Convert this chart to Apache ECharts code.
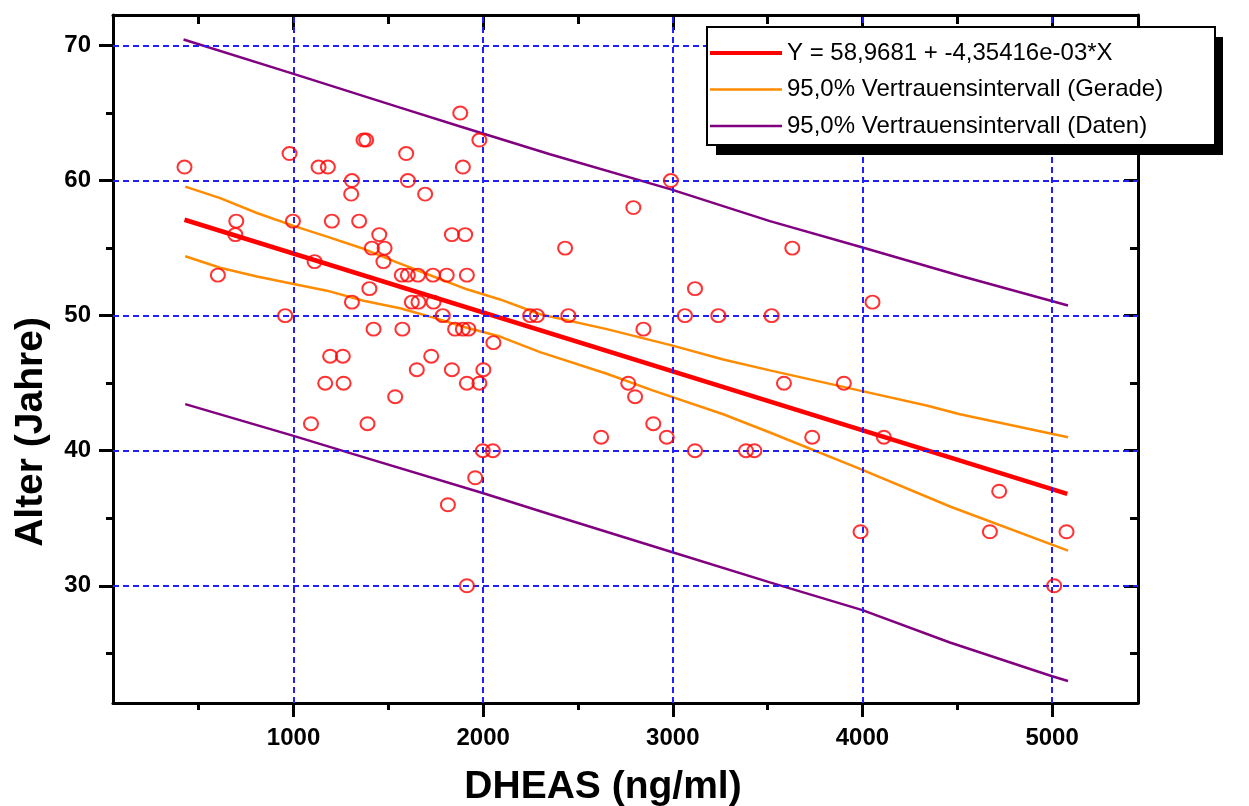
<!DOCTYPE html>
<html><head><meta charset="utf-8">
<script src="https://cdn.jsdelivr.net/npm/echarts@6/dist/echarts.min.js"></script>
<style>html,body{margin:0;padding:0;background:#fff}#c{width:1249px;height:806px}</style>
</head><body><div id="c"></div>
<script>
// Scatter data: DHEAS (ng/ml) vs Alter (Jahre)
const dheas = [425,601,698,693,956,979,997,1092,1111,1132,1181,1167,1193,1260,1264,1202,1304,1308,1308,1346,1369,1383,1400,1390,1413,1452,1480,1474,1422,1536,1571,1574,1594,1603,1603,1624,1650,1656,1659,1694,1726,1735,1738,1787,1808,1814,1835,1835,1852,1879,1893,1905,1914,1893,1922,1914,1914,1958,1980,1980,1998,2001,2051,2054,2248,2283,2432,2449,2622,2765,2792,2801,2845,2897,2968,2990,3064,3117,3117,3240,3386,3430,3521,3586,3630,3735,3902,3990,4053,4113,4672,4721,5011,5076];
const alter = [61,53,57,56,50,62,57,42,54,61,61,45,47,47,45,57,59,60,51,57,63,63,52,42,55,56,55,54,49,44,53,49,62,60,53,51,46,53,51,59,47,53,51,50,53,36,46,56,49,65,61,56,53,49,49,45,30,38,63,45,40,46,40,48,50,50,55,50,41,45,58,44,49,42,41,60,50,52,40,50,40,40,50,45,55,41,45,34,51,41,34,37,30,34];

// Regression line Y = 58,9681 - 4,35416e-03*X (endpoints)
const regX = [425, 5080];
const regY = [57.1, 36.8];

// 95% confidence band of the line (orange)
const ciUpX = [429,613,807,1000,1176,1369,1545,1738,1914,2089,2300,2652,2994,3266,3512,3987,4338,4514,5084];
const ciUpY = [59.55,58.7,57.6,56.65,55.85,54.95,53.95,52.9,51.95,51.2,50.1,49.0,47.8,46.75,45.95,44.45,43.35,42.7,41.0];
const ciLoX = [429,613,807,1000,1176,1369,1562,1738,1914,2089,2300,2652,2897,3266,3512,3987,4465,5084];
const ciLoY = [54.4,53.55,52.9,52.35,51.85,51.1,50.55,49.85,49.1,48.45,47.3,45.7,44.45,42.7,41.35,38.65,35.85,32.6];

// 95% prediction band of the data (purple)
const piUpX = [420,1000,1562,1879,2352,2990,3512,3987,4514,5084];
const piUpY = [70.45,67.9,65.4,64.0,61.95,59.35,57.0,55.1,52.95,50.75];
const piLoX = [429,1000,1316,2001,2352,2994,3512,4000,4461,5000,5084];
const piLoY = [43.45,41.1,39.75,36.85,35.3,32.5,30.25,28.2,25.8,23.3,22.95];

const xMajor = [1000,2000,3000,4000,5000];
const xMinor = [500,1500,2500,3500,4500];
const yMajor = [30,40,50,60,70];
const yMinor = [25,35,45,55,65];

const legendNames = ['Y = 58,9681 + -4,35416e-03*X','95,0% Vertrauensintervall (Gerade)','95,0% Vertrauensintervall (Daten)'];

const X_MIN = 48, X_MAX = 5453, Y_MIN = 21.32, Y_MAX = 72.26;
const FONT = '"Liberation Sans", Arial, sans-serif';

function zip(xs, ys){ return xs.map((x,i)=>[x, ys[i]]); }

function xAx(pos, ticks, len, inside, line, labels){
  return {
    type:'value', min:X_MIN, max:X_MAX, position:pos,
    axisLine:{show:line, onZero:false, lineStyle:{color:'#000', width:3}},
    axisTick:{show:true, customValues:ticks, length:len, inside:inside, lineStyle:{color:'#000', width:3}},
    axisLabel: labels ? {show:true, customValues:ticks, formatter:v=>String(v), fontSize:24, fontWeight:'bold', color:'#000', margin:23, fontFamily:FONT} : {show:false},
    splitLine:{show:false}
  };
}
function yAx(pos, ticks, len, inside, line, labels){
  return {
    type:'value', min:Y_MIN, max:Y_MAX, position:pos,
    axisLine:{show:line, onZero:false, lineStyle:{color:'#000', width:3}},
    axisTick:{show:true, customValues:ticks, length:len, inside:inside, lineStyle:{color:'#000', width:3}},
    axisLabel: labels ? {show:true, customValues:ticks, formatter:v=>String(v), fontSize:24, fontWeight:'bold', color:'#000', margin:22, fontFamily:FONT} : {show:false},
    splitLine:{show:false}
  };
}

const xAxes = [
  xAx('bottom', xMajor, 14, false, true, true),
  xAx('bottom', xMinor, 7, false, false, false),
  xAx('top', xMajor, 15, true, true, false),
  xAx('top', xMinor, 9, true, false, false)
];
Object.assign(xAxes[0], {name:'DHEAS (ng/ml)', nameLocation:'middle', nameGap:65,
  nameTextStyle:{fontSize:39, fontWeight:'bold', color:'#000', fontFamily:FONT, padding:[0,45,0,0]}});
const yAxes = [
  yAx('left', yMajor, 14, false, true, true),
  yAx('left', yMinor, 7, false, false, false),
  yAx('right', yMajor, 14, true, true, false),
  yAx('right', yMinor, 8, true, false, false)
];
Object.assign(yAxes[0], {name:'Alter (Jahre)', nameLocation:'middle', nameGap:62,
  nameTextStyle:{fontSize:39, fontWeight:'bold', color:'#000', fontFamily:FONT, padding:[0,146,0,0]}});

const thinIcon = 'path://M0,0h1v0.02h-1z M0,0.8h72v2.4h-72z M0,3.98h1v0.02h-1z';
const thickIcon = 'path://M0,0h72v4h-72z';

const chart = echarts.init(document.getElementById('c'), null, {renderer:'canvas'});
chart.setOption({
  animation:false,
  backgroundColor:'#fff',
  grid:{left:113, right:111, top:15, bottom:103, containLabel:false, outerBoundsMode:'none'},
  xAxis:xAxes,
  yAxis:yAxes,
  graphic:[
    {type:'rect', z:100, silent:true, shape:{x:716, y:37, width:507, height:118}, style:{fill:'#000'}},
    {type:'rect', z:101, silent:true, shape:{x:707, y:27, width:508, height:118}, style:{fill:'#fff', stroke:'#000', lineWidth:2}}
  ],
  legend:{
    orient:'vertical', left:707, top:27, z:200,
    data:[
      {name:legendNames[0], icon:thickIcon, itemStyle:{color:'#ff0000'}},
      {name:legendNames[1], icon:thinIcon, itemStyle:{color:'#ff8c00'}},
      {name:legendNames[2], icon:thinIcon, itemStyle:{color:'#800080'}}
    ],
    itemWidth:72, itemHeight:4, itemGap:12.5,
    padding:[14,50,10,3],
    backgroundColor:'transparent', borderWidth:0,
    textStyle:{fontSize:24, color:'#000', fontFamily:FONT},
    selectedMode:false
  },
  series:[
    {type:'line', name:'grid', data:[], silent:true, z:1,
     markLine:{silent:true, symbol:['none','none'], label:{show:false}, animation:false,
       lineStyle:{color:'#2020ff', width:2, type:[6,4]},
       emphasis:{disabled:true},
       data: xMajor.map(v=>({xAxis:v})).concat(yMajor.map(v=>({yAxis:v})))}},
    {type:'line', name:legendNames[2], data:zip(piUpX,piUpY), showSymbol:false, symbol:'none', z:3,
     lineStyle:{color:'#800080', width:2.5}, itemStyle:{color:'#800080'}},
    {type:'line', name:legendNames[2], data:zip(piLoX,piLoY), showSymbol:false, symbol:'none', z:3,
     lineStyle:{color:'#800080', width:2.5}, itemStyle:{color:'#800080'}},
    {type:'line', name:legendNames[1], data:zip(ciUpX,ciUpY), showSymbol:false, symbol:'none', z:3,
     lineStyle:{color:'#ff8c00', width:2.5}, itemStyle:{color:'#ff8c00'}},
    {type:'line', name:legendNames[1], data:zip(ciLoX,ciLoY), showSymbol:false, symbol:'none', z:3,
     lineStyle:{color:'#ff8c00', width:2.5}, itemStyle:{color:'#ff8c00'}},
    {type:'line', name:legendNames[0], data:zip(regX,regY), showSymbol:false, symbol:'none', z:4,
     lineStyle:{color:'#ff0000', width:4.5}, itemStyle:{color:'#ff0000'}},
    {type:'scatter', name:'Daten', data:zip(dheas,alter), symbol:'circle', symbolSize:[14,13], z:5,
     itemStyle:{color:'rgba(0,0,0,0)', borderColor:'#ff0000', borderWidth:2}}
  ]
});
</script>
</body></html>
